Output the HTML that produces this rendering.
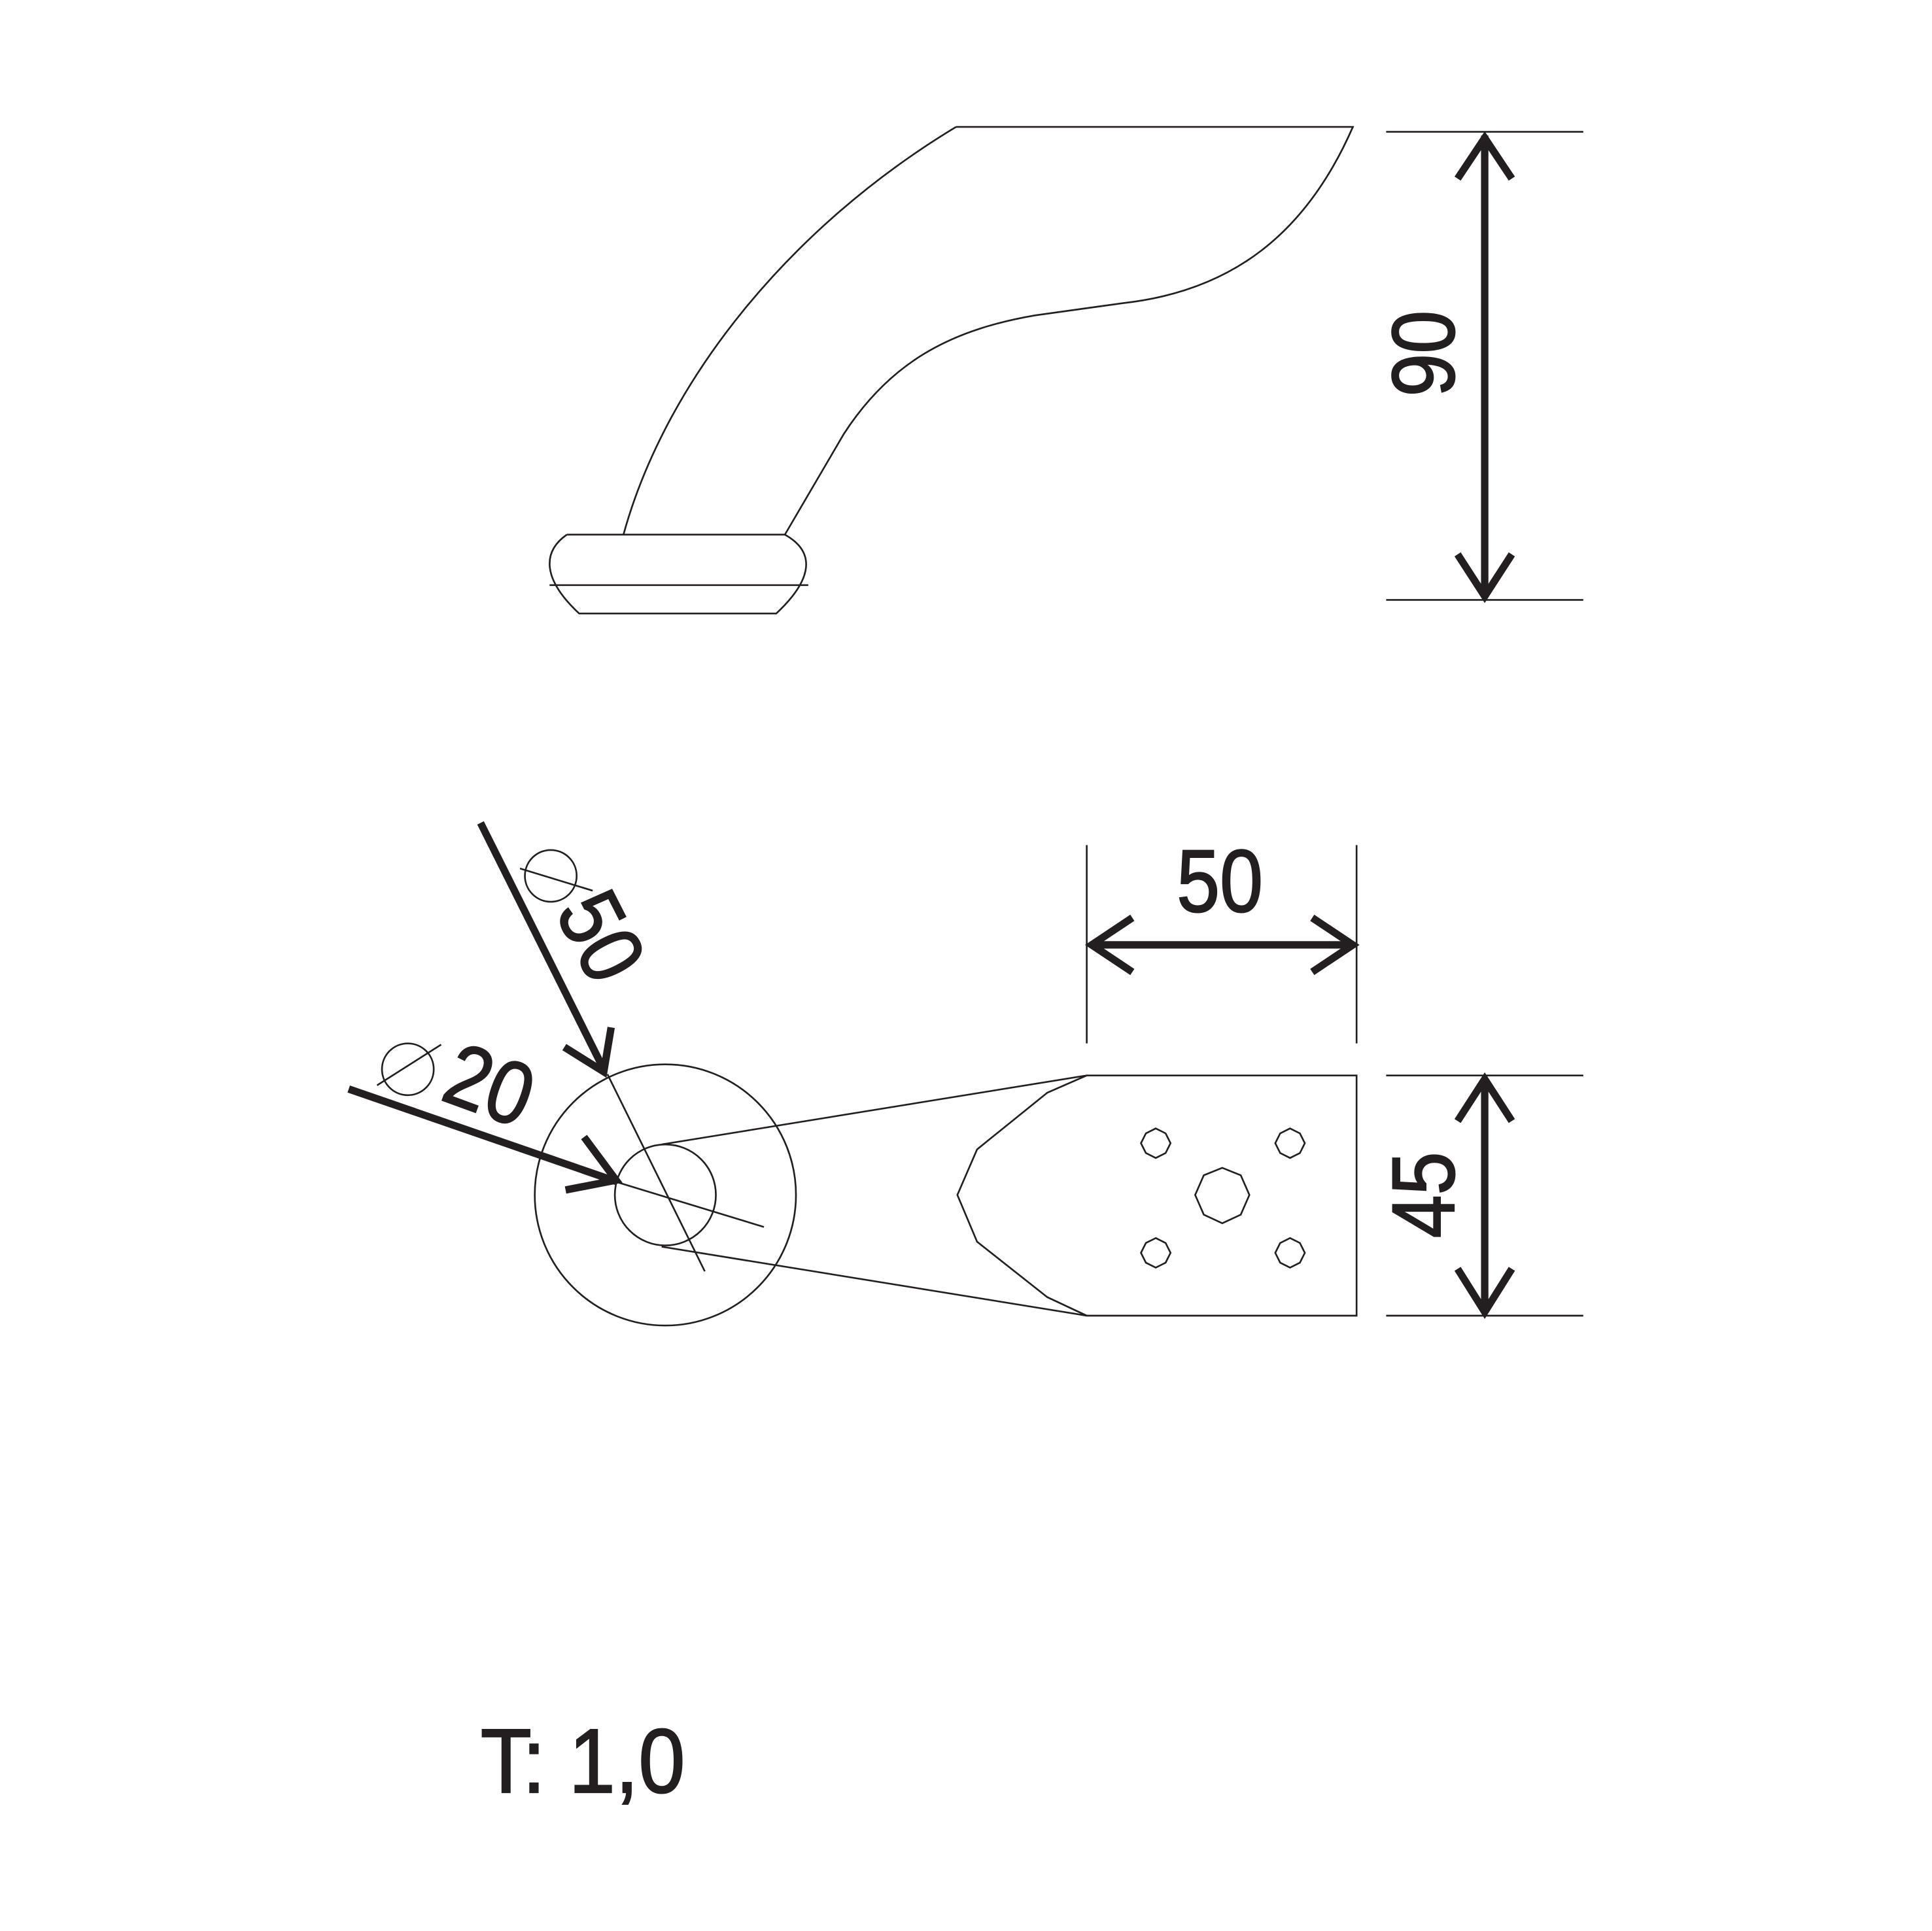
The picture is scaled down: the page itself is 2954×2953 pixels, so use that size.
<!DOCTYPE html>
<html><head><meta charset="utf-8"><style>html,body{margin:0;padding:0;background:#fff}svg{display:block}</style></head>
<body>
<svg width="2954" height="2953" viewBox="0 0 1568 1567.5" xmlns="http://www.w3.org/2000/svg" font-family="Liberation Sans, sans-serif">
<rect width="1568" height="1568" fill="#fff"/>
<g fill="none" stroke="#231f20" stroke-width="1.4">
<path d="M776,103 L1098,103 C1060,190 1000,236 912,246 L840,256 C770,268 722,295 685,352 L637,434"/>
<path d="M776,103 C640,185 540,310 506,434"/>
<path d="M460,434 L637,434"/>
<path d="M460,434 C440,448 440,470 470,498 L630,498 C660,470 662,448 637,434"/>
<path d="M446,475 L656,475"/>
<path d="M1125,107 L1285,107 M1125,487 L1285,487"/>
<path d="M1125,873 L1285,873 M1125,1068 L1285,1068"/>
<path d="M882,686 L882,847 M1101,686 L1101,847"/>
<circle cx="540" cy="970" r="106"/>
<circle cx="540" cy="970" r="41"/>
<path d="M537,929 L882,873 L1101,873 L1101,1068 L882,1068 L537,1012"/>
<path d="M882,873 L850,887 L793,933 L777,970 L793,1008 L850,1053 L882,1068"/>
<polygon points="938,916 946,920 950,928 946,936 938,940 930,936 926,928 930,920"/>
<polygon points="1047,916 1055,920 1059,928 1055,936 1047,940 1039,936 1035,928 1039,920"/>
<polygon points="938,1005 946,1009 950,1017 946,1025 938,1029 930,1025 926,1017 930,1009"/>
<polygon points="1047,1005 1055,1009 1059,1017 1055,1025 1047,1029 1039,1025 1035,1017 1039,1009"/>
<polygon points="992,948 1007,954 1014,970 1007,986 992,993 977,986 970,970 977,954"/>
<path d="M493,872 L572,1032"/>
<path d="M502,960 L620,996"/>
<circle cx="447" cy="711" r="21"/>
<path d="M422,705 L481,723"/>
<circle cx="331" cy="868" r="21"/>
<path d="M306,881 L358,848"/>
</g>
<g fill="none" stroke="#231f20" stroke-width="6" stroke-linecap="butt">
<path d="M1205,110 L1205,485"/>
<path d="M1183,145 L1205,112 L1227,145"/>
<path d="M1183,450 L1205,484 L1227,450"/>
<path d="M1205,876 L1205,1065"/>
<path d="M1183,910 L1205,876 L1227,910"/>
<path d="M1183,1030 L1205,1065 L1227,1030"/>
<path d="M885,767 L1099,767"/>
<path d="M919,745 L886,767 L919,789"/>
<path d="M1065,745 L1098,767 L1065,789"/>
<path d="M390,668 L490,868"/>
<path d="M458,850 L490,870 L496,834"/>
<path d="M283,884 L500,959"/>
<path d="M474,923 L500,958 L459,966"/>
</g>
<g fill="#231f20" font-size="72" stroke="#231f20" stroke-width="1.2">
<text x="990" y="740" text-anchor="middle" textLength="70" lengthAdjust="spacingAndGlyphs">50</text>
<text transform="translate(1180,287) rotate(-90)" text-anchor="middle" textLength="70" lengthAdjust="spacingAndGlyphs">90</text>
<text transform="translate(1180,970) rotate(-90)" text-anchor="middle" textLength="70" lengthAdjust="spacingAndGlyphs">45</text>
<text transform="translate(450,740) rotate(63)" textLength="70" lengthAdjust="spacingAndGlyphs">50</text>
<text transform="translate(356,892) rotate(20)" textLength="70" lengthAdjust="spacingAndGlyphs">20</text>
<text x="390" y="1455" font-size="74" textLength="166" lengthAdjust="spacingAndGlyphs">T: 1,0</text>
</g>
</svg>
</body></html>
